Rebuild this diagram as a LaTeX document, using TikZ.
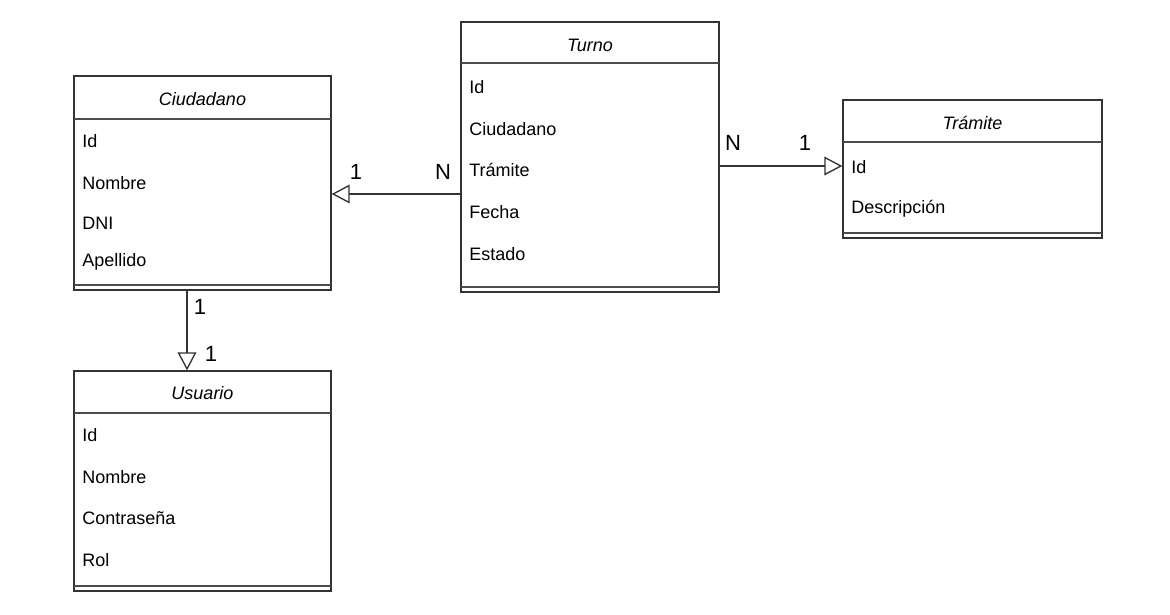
\documentclass[tikz,border=0pt]{standalone}
\usepackage{fontspec}
\setmainfont{Liberation Sans}
\usetikzlibrary{arrows.meta,fit}

\tikzset{
  classbox/.style={draw=black!80, line width=1pt, inner sep=0pt},
  sepline/.style={draw=black!70, line width=1pt},
  classtitle/.style={font=\fontsize{13.5}{16}\selectfont\itshape, inner sep=0pt},
  attr/.style={font=\fontsize{13.5}{16}\selectfont, anchor=west, inner sep=0pt},
  mult/.style={font=\fontsize{16.5}{19}\selectfont, inner sep=0pt},
  assoc/.style={draw=black!80, line width=1pt,
    -{Triangle[length=13.5pt, width=14pt, fill=white, line width=1pt]}},
}

\begin{document}
\begin{tikzpicture}[x=0.75pt, y=-0.75pt]
  \useasboundingbox (0,0) rectangle (1170,614);

  % Ciudadano
  \node[classbox, fit={(74,76) (331,290)}] (ciudadano) {};
  \draw[sepline] (74,119) -- (331,119);
  \draw[sepline] (74,285) -- (331,285);
  \node[classtitle] (ciudadanoT) at (202.5,99) {Ciudadano};
  \foreach \y/\attrname in {141/Id, 183/Nombre, 223/DNI, 262/Apellido}
    \node[attr] at (82,\y) {\attrname};

  % Turno
  \node[classbox, fit={(461,22) (719,292)}] (turno) {};
  \draw[sepline] (461,63) -- (719,63);
  \draw[sepline] (461,287) -- (719,287);
  \node[classtitle] (turnoT) at (590,45) {Turno};
  \foreach \y/\attrname in {87/Id, 129/Ciudadano, 170/Trámite, 212/Fecha, 254/Estado}
    \node[attr] at (469,\y) {\attrname};

  % Tramite
  \node[classbox, fit={(843,100) (1102,238)}] (tramite) {};
  \draw[sepline] (843,142) -- (1102,142);
  \draw[sepline] (843,233) -- (1102,233);
  \node[classtitle] (tramiteT) at (972.5,123) {Trámite};
  \foreach \y/\attrname in {167/Id, 209/Descripción}
    \node[attr] at (851,\y) {\attrname};

  % Usuario
  \node[classbox, fit={(74,371) (331,591)}] (usuario) {};
  \draw[sepline] (74,413) -- (331,413);
  \draw[sepline] (74,586) -- (331,586);
  \node[classtitle] (usuarioT) at (202.5,393) {Usuario};
  \foreach \y/\attrname in {435/Id, 477/Nombre, 518/Contraseña, 560/Rol}
    \node[attr] at (82,\y) {\attrname};

  % associations
  \coordinate (turnoOut) at (461,194);
  \coordinate (turnoRight) at (719,166);
  \coordinate (ciudadanoDown) at (187,290);
  \draw[assoc] (turnoOut) -- (turnoOut -| ciudadano.east);
  \draw[assoc] (turnoRight) -- (turnoRight -| tramite.west);
  \draw[assoc] (ciudadanoDown) -- (ciudadanoDown |- usuario.north);

  % multiplicities
  \node[mult] (m1) at (356,172) {1};
  \node[mult] (m2) at (443,172) {N};
  \node[mult] (m3) at (733,143) {N};
  \node[mult] (m4) at (805,143) {1};
  \node[mult] (m5) at (200,307) {1};
  \node[mult] (m6) at (211,354) {1};
\end{tikzpicture}
\end{document}
